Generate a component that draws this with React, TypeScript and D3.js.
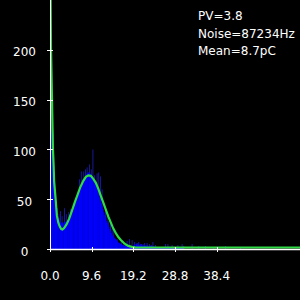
import React from "react";
import * as d3 from "d3";

// bin width in data units (pC)
const BIN_WIDTH = 0.192;

// bright-blue histogram (smoothed) counts per bin, starting at 0
const counts = [
  118, 118, 118, 116, 75, 68, 57, 48, 41, 35,
  31, 29, 27, 26, 27, 25, 26, 27, 27, 28,
  28, 27, 29, 31, 32, 34, 36, 38, 41, 44,
  47, 49, 52, 55, 56, 59, 62, 64, 67, 70,
  71, 72, 74, 75, 76, 77, 77, 76, 75, 75,
  73, 72, 71, 69, 67, 64, 62, 58, 55, 52,
  49, 46, 43, 40, 37, 34, 31, 28, 26, 24,
  22, 20, 18, 16, 14, 13, 12, 11, 10, 9,
  8, 7, 6, 6, 5, 5, 4, 4, 4, 3,
  3, 3, 2, 3, 2, 2, 3, 2, 2, 2,
  4, 5, 3, 5, 4, 6, 3, 4, 5, 3,
  4, 3, 5, 4, 3, 2, 4, 3, 2, 3,
  3, 4, 2, 3, 2, 2, 3, 2, 2, 1,
  2, 1, 2, 2, 1, 2, 1, 2, 1, 2,
  2, 3, 1, 2, 2, 1, 2, 1, 1, 2,
  1, 2, 1, 1, 2, 1, 1, 2, 1, 1,
];

// dark-blue raw fluctuations: [bin index, count]
const spikeBins = [
  1, 2, 3, 12, 14, 17, 19, 22, 24, 26,
  35, 37, 40, 42, 44, 47, 49, 51, 53, 56, 58, 60, 62,
  66, 68, 70, 72, 74, 76, 80, 85, 88, 92, 95, 98,
  101, 104, 106, 109, 113, 116, 119, 123, 126, 138, 141, 146,
  153, 158, 160, 170, 178, 186, 196, 210, 228,
];
const spikeValues = [
  205, 150, 120, 38, 33, 41, 35, 37, 40, 39,
  70, 78, 78, 80, 82, 85, 80, 100, 74, 76, 77, 73, 60,
  38, 33, 28, 25, 20, 18, 10, 9, 8, 8, 10, 9,
  7, 6, 7, 5, 6, 6, 5, 7, 4, 5, 5, 4,
  4, 5, 3, 5, 3, 3, 2, 3, 2,
];

// fitted curve samples (charge pC, count)
const fitX = [
  0.115, 0.23, 0.46, 0.67, 0.83, 0.96, 1.29, 1.59, 1.92, 2.25,
  2.59, 2.88, 3.26, 3.84, 4.42, 4.99, 5.76, 6.34, 6.91, 7.68,
  8.26, 8.83, 9.41, 9.98, 10.56, 11.14, 11.71, 12.29, 12.86, 13.44,
  14.02, 14.59, 15.17, 15.74, 16.32, 16.9, 17.47, 18.05, 18.82, 19.58,
  21.12, 57.6,
];
const fitY = [
  262, 200, 150, 100, 83, 66, 49, 32, 25, 21,
  18.5, 18, 19.5, 23.5, 29, 36, 46, 53, 60, 67,
  71, 72.5, 72, 69, 65, 59, 52, 45, 38, 31,
  25, 19, 14.5, 10.5, 7.5, 5, 3, 1.6, 0.6, 0.2,
  0, 0,
];

const xTicks = [0, 9.6, 19.2, 28.8, 38.4];
const yTicks = [0, 50, 100, 150, 200];
const infoLines = ["PV=3.8", "Noise=87234Hz", "Mean=8.7pC"];

export default function App() {
  const W = 300;
  const H = 300;
  const left = 50;
  const right = 300;
  const top = 0;
  const bottom = 249;

  const x = d3.scaleLinear().domain([0, 57.6]).range([left, right]);
  const y = d3.scaleLinear().domain([0, 250.25]).range([bottom, top]);

  const line = d3
    .line<number>()
    .x((_, i) => x(fitX[i]))
    .y((_, i) => y(fitY[i]) - 1.5);

  const font = "DejaVu Sans, sans-serif";

  return (
    <svg
      width={W}
      height={H}
      style={{ position: "absolute", left: 0, top: 0, background: "#000" }}
    >
      <rect x={0} y={0} width={W} height={H} fill="#000" />
      <defs>
        <clipPath id="plot">
          <rect x={left} y={top} width={right - left} height={bottom - top} />
        </clipPath>
      </defs>
      <g clipPath="url(#plot)">
        {spikeBins.map((b, i) => (
          <rect
            key={"s" + i}
            x={x(b * BIN_WIDTH)}
            width={x(BIN_WIDTH) - x(0)}
            y={y(spikeValues[i])}
            height={bottom - y(spikeValues[i])}
            fill="#1c1cb8"
          />
        ))}
        {counts.map((c, i) => (
          <rect
            key={"c" + i}
            x={x(i * BIN_WIDTH)}
            width={x(BIN_WIDTH) - x(0) + 0.3}
            y={y(c)}
            height={bottom - y(c)}
            fill="#0000ff"
          />
        ))}
        <path
          d={line(fitY) || ""}
          fill="none"
          stroke="#30dc46"
          strokeWidth={2.2}
        />
      </g>
      {/* axes */}
      <line x1={left + 0.5} x2={left + 0.5} y1={0} y2={bottom} stroke="#fff" strokeWidth={1} />
      <line x1={left} x2={right} y1={bottom + 0.5} y2={bottom + 0.5} stroke="#fff" strokeWidth={1.3} />
      {yTicks.map((t) => (
        <g key={"y" + t}>
          <line
            x1={left - 3}
            x2={left + 3}
            y1={Math.round(y(t)) + 0.5}
            y2={Math.round(y(t)) + 0.5}
            stroke="#fff"
          />
          <text
            x={24.5}
            y={y(t) + 6.5}
            fill="#fff"
            fontFamily={font}
            fontSize={12}
            textAnchor="middle"
          >
            {t}
          </text>
        </g>
      ))}
      {xTicks.map((t) => (
        <g key={"x" + t}>
          <line
            x1={Math.round(x(t)) + 0.5}
            x2={Math.round(x(t)) + 0.5}
            y1={bottom - 2}
            y2={bottom + 3}
            stroke="#fff"
          />
          <text
            x={x(t)}
            y={280}
            fill="#fff"
            fontFamily={font}
            fontSize={12}
            textAnchor="middle"
          >
            {t.toFixed(1)}
          </text>
        </g>
      ))}
      {infoLines.map((s, i) => (
        <text
          key={s}
          x={198}
          y={20 + i * 17.7}
          fill="#fff"
          fontFamily={font}
          fontSize={12}
        >
          {s}
        </text>
      ))}
    </svg>
  );
}
